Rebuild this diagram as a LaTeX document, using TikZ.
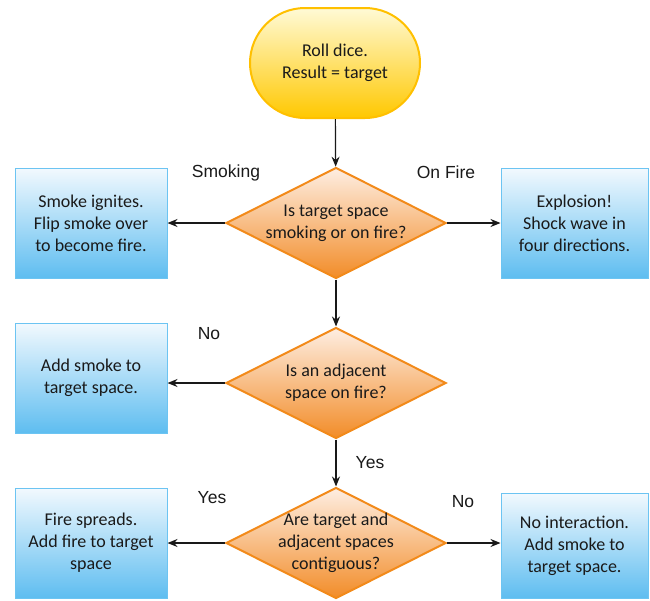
\documentclass[tikz,border=0pt]{standalone}
\usepackage{fontspec}
\setmainfont{Carlito}
\newfontfamily\lblfont{Liberation Sans}
\usetikzlibrary{shapes.geometric,arrows.meta}
\definecolor{boxtop}{HTML}{F2F9FE}
\definecolor{boxbot}{HTML}{5EBDF0}
\definecolor{boxline}{HTML}{6CC4F2}
\definecolor{diatop}{HTML}{FEEEE2}
\definecolor{diabot}{HTML}{F28C28}
\definecolor{dialine}{HTML}{F28A1A}
\definecolor{sttop}{HTML}{FFFAD6}
\definecolor{stbot}{HTML}{FFC800}
\definecolor{stline}{HTML}{FFC000}
\definecolor{txtc}{HTML}{1A1A1A}
\tikzset{
  x=1pt, y=-1pt,
  bluebox/.style={draw=boxline, line width=1pt, top color=boxtop, bottom color=boxbot, minimum width=#1, minimum height=110pt, inner sep=0pt},
  bluebox/.default=152pt,
  dia/.style={shape=diamond, draw=dialine, line width=2pt, top color=diatop, bottom color=diabot, minimum width=220pt, minimum height=111pt, inner sep=0pt},
  stad/.style={draw=stline, line width=2pt, top color=sttop, bottom color=stbot, rounded corners=55pt, minimum width=170pt, minimum height=110pt, inner sep=0pt},
  txt/.style={align=center, font=\fontsize{18}{22}\selectfont, text=txtc},
  lbl/.style={font=\lblfont\fontsize{17.5}{20}\selectfont, text=txtc},
  arr/.style={draw=black!90, line width=1.2pt, -{Stealth[length=10pt,width=8pt]}}
}
\begin{document}
\begin{tikzpicture}
\useasboundingbox (0,0) rectangle (650,600);
% start
\node[stad] (start) at (335,63) {};
\node[txt] (starttxt) at (start) {Roll dice.\\Result = target};
% diamonds
\node[dia] (d1) at (336,223) {};
\node[txt] (d1t) at (d1) {Is target space\\smoking or on fire?};
\node[dia] (d2) at (336,383) {};
\node[txt] (d2t) at (d2) {Is an adjacent\\space on fire?};
\node[dia] (d3) at (336,543) {};
\node[txt] (d3t) at (d3.center) {Are target and\\adjacent spaces\\contiguous?};
% boxes
\node[bluebox] (b1) at (91,223) {};
\node[txt] (b1t) at (b1) {Smoke ignites.\\Flip smoke over\\to become fire.};
\node[bluebox=147pt] (b2) at (574.5,223) {};
\node[txt] (b2t) at (b2) {Explosion!\\Shock wave in\\four directions.};
\node[bluebox] (b3) at (91,378) {};
\node[txt] (b3t) at (b3) {Add smoke to\\target space.};
\node[bluebox] (b4) at (91,543) {};
\node[txt] (b4t) at (b4) {Fire spreads.\\Add fire to target\\space};
\node[bluebox=147pt, minimum height=105pt] (b5) at (574.5,545.5) {};
\node[txt] (b5t) at (b5) {No interaction.\\Add smoke to\\target space.};
% connectors
\draw[arr] (start) -- (d1);
\draw[arr] (d1) -- (b1);
\draw[arr] (d1) -- (b2);
\draw[arr] (d1) -- (d2);
\draw[arr] (d2.west) -- (b3.east |- d2.west);
\draw[arr] (d2) -- (d3);
\draw[arr] (d3) -- (b4);
\draw[arr] (d3.east) -- (b5.west |- d3.east);
% labels
\node[lbl] (l1) at (226,173) {Smoking};
\node[lbl] (l2) at (446,172) {On Fire};
\node[lbl] (l3) at (209,334) {No};
\node[lbl] (l4) at (370,463) {Yes};
\node[lbl] (l5) at (212,498) {Yes};
\node[lbl] (l6) at (463,502) {No};
\end{tikzpicture}
\end{document}
